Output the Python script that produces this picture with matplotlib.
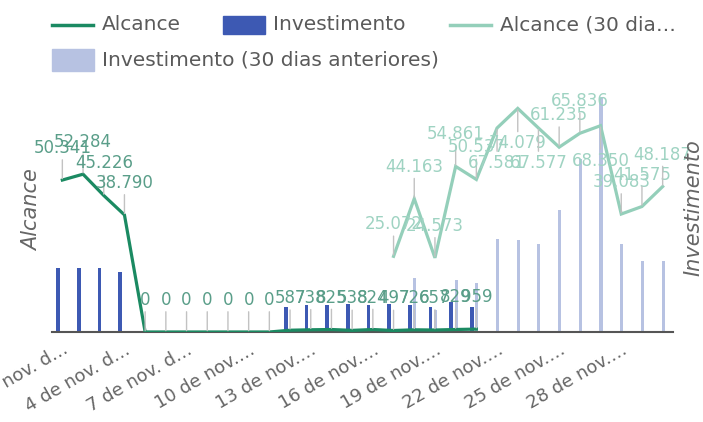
import matplotlib
matplotlib.use('Agg')
import matplotlib.pyplot as plt
from matplotlib.lines import Line2D
from matplotlib.patches import Rectangle
import numpy as np

plt.rcParams['font.family'] = ['DejaVu Sans']

NAN = np.nan

# one category per day, 1..30 nov
days = list(range(1, 31))
tick_idx = [0, 3, 6, 9, 12, 15, 18, 21, 24, 27]
tick_labels = ['1 de nov. d…', '4 de nov. d…', '7 de nov. d…', '10 de nov.…',
               '13 de nov.…', '16 de nov.…', '19 de nov.…', '22 de nov.…',
               '25 de nov.…', '28 de nov.…']

alcance = [50341, 52284, 45226, 38790, 0, 0, 0, 0, 0, 0, 0,
           587, 738, 825, 538, 824, 497, 726, 657, 829, 959] + [NAN] * 9
investimento = [130, 130, 130, 122, 0, 0, 0, 0, 0, 0, 0,
                50, 54, 54, 56, 54, 56, 54, 50, 60, 50] + [NAN] * 9
alcance_ant = [NAN] * 16 + [25072, 44163, 24573, 54861, 50537, 67581, 74079,
                            67577, 61235, 65836, 68350, 39083, 41575, 48187]
investimento_ant = [NAN] * 17 + [110, 44, 106, 100, 190, 186, 178, 248, 352,
                                 478, 178, 144, 144]

C_ALC = '#1b8a62'
C_INV = '#3d59b3'
C_ALC_ANT = '#94cfba'
C_INV_ANT = '#b7c2e2'
C_TXT = '#666666'


def fmt(v):
    return f'{v:,.0f}'.replace(',', '.')


def label_points(ax, ys, color, below=()):
    for i, y in enumerate(ys):
        if np.isnan(y):
            continue
        dy = -35 if i in below else 32
        ax.annotate(fmt(y), xy=(i, y), xytext=(0, dy), textcoords='offset pixels',
                    ha='center', va='center', fontsize=12, color=color,
                    annotation_clip=False,
                    arrowprops=dict(arrowstyle='-', color='#c2c2c2', lw=1,
                                    shrinkA=0, shrinkB=1))


fig = plt.figure(figsize=(7.03, 4.22), dpi=100)
ax = fig.add_axes([52 / 703, 90 / 422, 621 / 703, 246 / 422])
ax2 = ax.twinx()

x = np.arange(len(days))
ax.bar(x - 0.21, investimento, width=0.18, color=C_INV, zorder=2)
ax.bar(x + 0.02, investimento_ant, width=0.15, color=C_INV_ANT, zorder=2)
ax.set_ylim(0, 500)
ax.set_xlim(-0.5, len(days) - 0.5)

ax2.plot(x, alcance_ant, color=C_ALC_ANT, lw=2.3, solid_joinstyle='miter')
ax2.plot(x, alcance, color=C_ALC, lw=2.3, solid_joinstyle='miter')
ax2.set_ylim(0, 81500)

label_points(ax2, alcance, '#5a9e89')
label_points(ax2, alcance_ant, '#9fd3c2', below=(21, 22, 23, 26))

for a in (ax, ax2):
    for s in ('top', 'left', 'right'):
        a.spines[s].set_visible(False)
    a.set_yticks([])
ax2.spines['bottom'].set_visible(False)
ax.spines['bottom'].set_color('#555555')
ax.spines['bottom'].set_linewidth(1.5)

ax.set_xticks(tick_idx)
ax.set_xticklabels(tick_labels, rotation=30, ha='right', rotation_mode='anchor',
                   fontsize=13, color=C_TXT)
ax.tick_params(axis='x', length=0, pad=6)

fig.text(32 / 703, 1 - 210 / 422, 'Alcance', rotation=90, ha='center', va='center',
         fontsize=15, style='italic', color=C_TXT)
fig.text(693 / 703, 1 - 208 / 422, 'Investimento', rotation=90, ha='center',
         va='center', fontsize=15, style='italic', color=C_TXT)

# legend, drawn by hand to get the two-row layout
W, H = 703, 422


def leg_line(x0, y, color, text):
    fig.add_artist(Line2D([x0 / W, (x0 + 41) / W], [1 - y / H, 1 - y / H],
                          color=color, lw=2.5, transform=fig.transFigure))
    fig.text((x0 + 50) / W, 1 - y / H, text, ha='left', va='center',
             fontsize=14.5, color='#5a5a5a')


def leg_box(x0, y, color, text, h=20):
    fig.add_artist(Rectangle((x0 / W, 1 - (y + h / 2) / H), 42 / W, h / H,
                             color=color, transform=fig.transFigure))
    fig.text((x0 + 50) / W, 1 - y / H, text, ha='left', va='center',
             fontsize=14.5, color='#5a5a5a')


leg_line(52, 25, C_ALC, 'Alcance')
leg_box(223, 25, C_INV, 'Investimento', h=18)
leg_line(450, 25, C_ALC_ANT, 'Alcance (30 dia…')
leg_box(52, 60, C_INV_ANT, 'Investimento (30 dias anteriores)', h=22)

fig.savefig('out.png', dpi=100)
